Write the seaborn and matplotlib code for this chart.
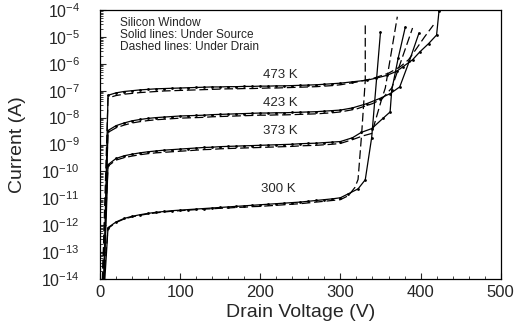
import numpy as np
import pandas as pd
import matplotlib
matplotlib.use("Agg")
import matplotlib.pyplot as plt
import matplotlib.ticker as mticker
import seaborn as sns

# ---------------- data (log10 of current in A) ----------------
plateau_voltage = [10, 20, 30, 40, 50, 60, 70, 80, 90, 100, 110, 120, 130, 140, 150,
                   160, 170, 180, 190, 200, 210, 220, 230, 240, 250, 260, 270, 280, 290, 300]

log_i_473_solid = [-7.17, -7.08, -7.03, -7.00, -6.97, -6.95, -6.93, -6.92, -6.91, -6.90,
                   -6.89, -6.88, -6.87, -6.86, -6.86, -6.85, -6.85, -6.84, -6.84, -6.83,
                   -6.83, -6.82, -6.82, -6.81, -6.80, -6.79, -6.78, -6.76, -6.74, -6.72]
tail_v_473_solid = [315, 333, 345, 358, 370, 378, 390, 399, 410, 420, 423]
tail_i_473_solid = [-6.67, -6.61, -6.53, -6.43, -6.28, -6.11, -5.85, -5.56, -5.25, -4.93, -4.04]

log_i_473_dashed = [-7.27, -7.18, -7.13, -7.10, -7.07, -7.05, -7.03, -7.01, -7.00, -6.99,
                    -6.98, -6.97, -6.96, -6.95, -6.94, -6.93, -6.93, -6.92, -6.92, -6.91,
                    -6.90, -6.90, -6.89, -6.88, -6.87, -6.86, -6.85, -6.83, -6.81, -6.78]
tail_v_473_dashed = [320, 340, 360, 375, 385, 395, 405, 416]
tail_i_473_dashed = [-6.68, -6.55, -6.35, -6.10, -5.85, -5.43, -5.00, -4.56]

log_i_423_solid = [-8.48, -8.30, -8.20, -8.12, -8.07, -8.03, -8.00, -7.98, -7.96, -7.94,
                   -7.93, -7.92, -7.91, -7.89, -7.88, -7.87, -7.86, -7.85, -7.84, -7.83,
                   -7.83, -7.82, -7.82, -7.81, -7.80, -7.79, -7.78, -7.76, -7.74, -7.72]
tail_v_423_solid = [315, 333, 349, 362, 374, 386, 398]
tail_i_423_solid = [-7.64, -7.48, -7.29, -7.11, -6.86, -5.90, -4.86]

log_i_423_dashed = [-8.55, -8.38, -8.28, -8.20, -8.15, -8.11, -8.08, -8.06, -8.04, -8.02,
                    -8.01, -8.00, -7.99, -7.97, -7.96, -7.95, -7.94, -7.93, -7.92, -7.91,
                    -7.91, -7.90, -7.90, -7.89, -7.88, -7.87, -7.86, -7.84, -7.82, -7.79]
tail_v_423_dashed = [320, 340, 352, 364, 378, 390]
tail_i_423_dashed = [-7.68, -7.48, -7.30, -6.90, -5.70, -4.67]

log_i_373_solid = [-9.75, -9.52, -9.42, -9.36, -9.31, -9.27, -9.24, -9.21, -9.19, -9.17,
                   -9.15, -9.13, -9.11, -9.10, -9.08, -9.07, -9.06, -9.05, -9.04, -9.03,
                   -9.02, -9.01, -9.00, -8.99, -8.97, -8.96, -8.95, -8.93, -8.91, -8.89]
tail_v_373_solid = [315, 326, 339, 353, 362, 364, 372, 381]
tail_i_373_solid = [-8.75, -8.55, -8.41, -8.03, -7.79, -6.99, -5.80, -4.63]

log_i_373_dashed = [-9.80, -9.58, -9.49, -9.43, -9.38, -9.34, -9.31, -9.29, -9.27, -9.25,
                    -9.23, -9.21, -9.19, -9.18, -9.16, -9.15, -9.14, -9.13, -9.12, -9.11,
                    -9.10, -9.09, -9.08, -9.07, -9.05, -9.04, -9.03, -9.01, -8.99, -8.96]
tail_v_373_dashed = [315, 328, 339, 351, 356, 371]
tail_i_373_dashed = [-8.82, -8.68, -8.59, -7.36, -6.90, -4.25]

log_i_300_solid = [-12.09, -11.88, -11.75, -11.67, -11.61, -11.56, -11.52, -11.49, -11.46, -11.44,
                   -11.42, -11.40, -11.38, -11.36, -11.34, -11.32, -11.30, -11.28, -11.26, -11.24,
                   -11.22, -11.20, -11.18, -11.16, -11.14, -11.11, -11.08, -11.05, -11.02, -10.98]
tail_v_300_solid = [310, 322, 331, 339, 350]
tail_i_300_solid = [-10.83, -10.65, -10.31, -8.74, -4.82]

log_i_300_dashed = [-12.12, -11.90, -11.77, -11.69, -11.63, -11.58, -11.54, -11.51, -11.48, -11.46,
                    -11.44, -11.42, -11.40, -11.39, -11.37, -11.36, -11.34, -11.33, -11.31, -11.30,
                    -11.28, -11.26, -11.24, -11.22, -11.20, -11.17, -11.14, -11.11, -11.08, -11.05]
tail_v_300_dashed = [310, 318, 322, 326.5, 331, 331]
tail_i_300_dashed = [-10.90, -10.60, -10.30, -8.60, -6.61, -4.49]

start_v_solid = 4
start_v_dashed = 2
start_log_i = -15.0

temperature_labels = ["473 K", "423 K", "373 K", "300 K"]
label_voltage = [225, 225, 225, 222]
label_log_i = [-6.43, -7.44, -8.48, -10.65]

annotation_lines = ["Silicon Window", "Solid lines: Under Source", "Dashed lines: Under Drain"]

x_ticks = [0, 100, 200, 300, 400, 500]

curves = {
    ("473", "solid"): (log_i_473_solid, tail_v_473_solid, tail_i_473_solid),
    ("473", "dashed"): (log_i_473_dashed, tail_v_473_dashed, tail_i_473_dashed),
    ("423", "solid"): (log_i_423_solid, tail_v_423_solid, tail_i_423_solid),
    ("423", "dashed"): (log_i_423_dashed, tail_v_423_dashed, tail_i_423_dashed),
    ("373", "solid"): (log_i_373_solid, tail_v_373_solid, tail_i_373_solid),
    ("373", "dashed"): (log_i_373_dashed, tail_v_373_dashed, tail_i_373_dashed),
    ("300", "solid"): (log_i_300_solid, tail_v_300_solid, tail_i_300_solid),
    ("300", "dashed"): (log_i_300_dashed, tail_v_300_dashed, tail_i_300_dashed),
}

# ---------------- style ----------------
sns.set_style("ticks")
plt.rcParams["font.family"] = ["Liberation Sans", "DejaVu Sans"]
plt.rcParams["mathtext.fontset"] = "custom"
plt.rcParams["mathtext.rm"] = "Liberation Sans"
plt.rcParams["mathtext.it"] = "Liberation Sans:italic"
plt.rcParams["mathtext.bf"] = "Liberation Sans:bold"

fig = plt.figure(figsize=(5.27, 3.27), dpi=100)
ax = fig.add_axes([100 / 527, 1 - 279 / 327, 400.7 / 527, 269 / 327])

for (temp, style), (plateau, tv, ti) in curves.items():
    v0 = start_v_solid if style == "solid" else start_v_dashed
    volts = [v0] + plateau_voltage + tv
    logs = [start_log_i] + plateau + ti
    df = pd.DataFrame({"V": volts, "I": np.power(10.0, logs)})
    if style == "solid":
        sns.lineplot(data=df, x="V", y="I", ax=ax, sort=False, estimator=None,
                     color="black", linewidth=0.9, marker="o", markersize=2.0,
                     markeredgewidth=0, markerfacecolor="black")
    else:
        sns.lineplot(data=df, x="V", y="I", ax=ax, sort=False, estimator=None,
                     color="black", linewidth=0.9, dashes=False)
        ax.lines[-1].set_dashes([7, 3])

ax.set_yscale("log")
ax.set_xlim(0, 500)
ax.set_ylim(1e-14, 1e-4)
ax.set_xticks(x_ticks)
ax.xaxis.set_minor_locator(mticker.MultipleLocator(20))
ax.yaxis.set_major_locator(mticker.LogLocator(base=10, numticks=20))
ax.yaxis.set_minor_locator(mticker.LogLocator(base=10, subs=np.arange(2, 10), numticks=20))
ax.yaxis.set_minor_formatter(mticker.NullFormatter())

ax.tick_params(axis="both", which="major", direction="in", length=4, width=0.8,
               top=False, right=False)
ax.tick_params(axis="x", which="major", pad=4.5, labelsize=12)
ax.tick_params(axis="y", which="major", pad=14.5, labelsize=11.5)
ax.tick_params(axis="both", which="minor", direction="in", length=2, width=0.6,
               top=False, right=False)
for s in ax.spines.values():
    s.set_linewidth(0.9)
    s.set_color("black")

ax.set_xlabel("Drain Voltage (V)", fontsize=14)
ax.set_ylabel("Current (A)", fontsize=14)
ax.xaxis.set_label_coords(0.5, -0.092)
ax.yaxis.set_label_coords(-0.185, 0.5)

for lab, lv, li in zip(temperature_labels, label_voltage, label_log_i):
    ax.text(lv, 10 ** li, lab, fontsize=9.5, ha="center", va="center")

for k, line in enumerate(annotation_lines):
    ax.text(0.05, 0.975 - k * 0.0445, line, transform=ax.transAxes, fontsize=8.6,
            ha="left", va="top")

fig.savefig("out.png", dpi=100)
